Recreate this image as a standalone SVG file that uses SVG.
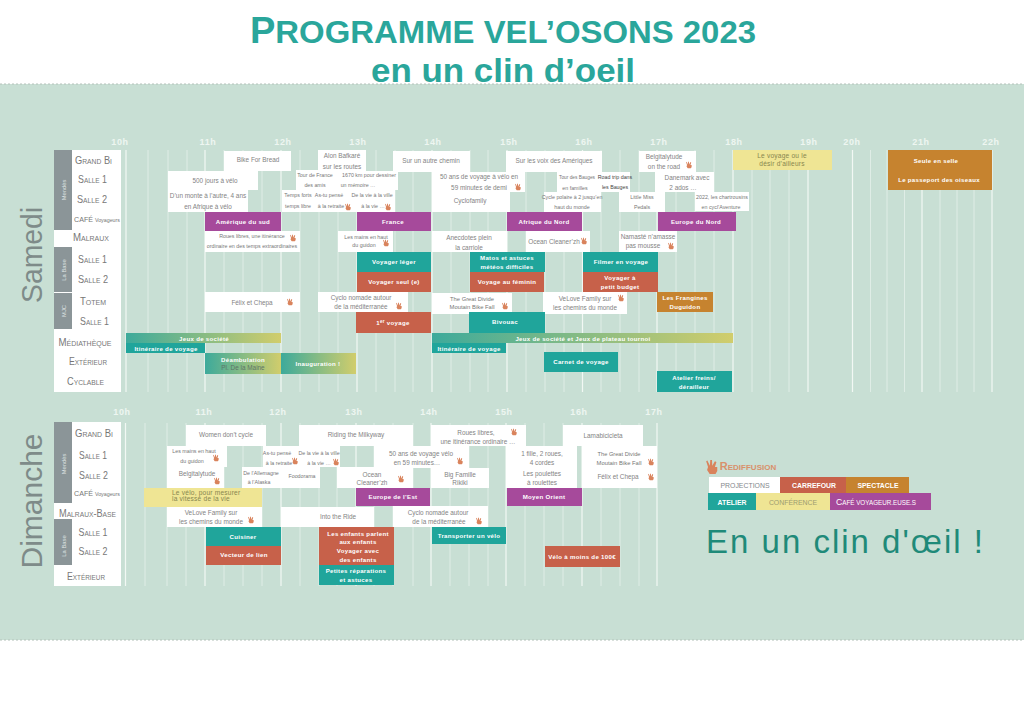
<svg xmlns="http://www.w3.org/2000/svg" width="1024" height="724" viewBox="0 0 1024 724">
<style>
text{font-family:"Liberation Sans",Arial,sans-serif;text-anchor:middle}
.w{fill:#fff}.p{fill:#a64a9b}.te{fill:#20a59b}.co{fill:#c7614a}.or{fill:#c6832f}.ye{fill:#efe594}.gr{fill:#8b9598}
.t{font-size:6.4px;fill:#838383}.n{font-size:5.3px;fill:#767676}.b{font-size:6.1px;font-weight:bold;fill:#fff;letter-spacing:.3px}.y{font-size:6.6px;fill:#87864f;letter-spacing:.2px}
.h{font-size:9px;font-weight:bold;fill:#eef6f1;letter-spacing:.6px}
.r{font-size:11px;fill:#777;font-variant:small-caps}
.v{font-size:5.8px;fill:#dfe3e3}
.day{font-size:30px;fill:#7e8b89}
.maj{stroke:#f2f8f4;stroke-width:1.2;fill:none}.min{stroke:#eaf3ee;stroke-width:.7;fill:none}
.lg{font-size:6.9px;font-weight:bold;fill:#fff}
</style>
<defs>
<linearGradient id="g1"><stop offset="0" stop-color="#3daa9b"/><stop offset="1" stop-color="#d1cd6c"/></linearGradient>
<symbol id="hand" viewBox="0 0 10 12"><path fill="#d9835c" d="M1 0.5 3.2 5 3.5 0 5 0 5.2 5 7.5 1 8.8 1.8 7.5 6 9.5 6 9.5 9.5 8 12 3 12 0.8 8.5 1.6 6 0 1Z"/></symbol>
</defs>
<rect width="1024" height="724" fill="#fff"/>
<rect y="84" width="1024" height="556" fill="#c8dfd4"/>
<path d="M0 84H1024M0 640H1024" stroke="#b4c2ba" stroke-width="1" stroke-dasharray="2 2" fill="none"/>
<g id="title">
<text x="503" y="43" font-size="32" font-weight="bold" fill="#2aa69b" textLength="506" lengthAdjust="spacingAndGlyphs"><tspan font-size="37">P</tspan>ROGRAMME VEL’OSONS 2023</text>
<text x="503" y="82" font-size="34" font-weight="bold" fill="#2aa69b" textLength="264" lengthAdjust="spacingAndGlyphs">en un clin d’oeil</text>
</g>
<g id="grid">
<path class="maj" d="M126 150V392M205 150V392M281 150V392M357 150V392M432 150V392M507 150V392M582.5 150V392M657 150V392M733 150V392M808 150V392M852.5 150V392M922 150V392M992 150V392M125.5 423V586M205 423V586M281 423V586M356 423V586M431 423V586M506 423V586M582 423V586M657 423V586"/>
<path class="min" d="M148 150V392M168 150V392M187 150V392M224 150V392M243 150V392M262 150V392M300 150V392M319 150V392M338 150V392M376 150V392M395 150V392M413 150V392M451 150V392M470 150V392M488 150V392M526 150V392M545 150V392M564 150V392M601 150V392M620 150V392M639 150V392M676 150V392M695 150V392M714 150V392M752 150V392M770 150V392M789 150V392M870.5 150V392M887 150V392M904.5 150V392M940 150V392M957 150V392M974 150V392M145 423V586M167 423V586M186 423V586M224 423V586M243 423V586M262 423V586M300 423V586M319 423V586M337 423V586M374 423V586M393 423V586M413 423V586M450 423V586M469 423V586M488 423V586M525 423V586M544 423V586M563 423V586M601 423V586M620 423V586M639 423V586"/>
</g>
<g id="hours-sat">
<text class="h" x="120" y="145">10h</text><text class="h" x="208" y="145">11h</text><text class="h" x="283" y="145">12h</text><text class="h" x="358" y="145">13h</text><text class="h" x="433" y="145">14h</text><text class="h" x="509" y="145">15h</text><text class="h" x="584" y="145">16h</text><text class="h" x="659" y="145">17h</text><text class="h" x="734" y="145">18h</text><text class="h" x="809" y="145">19h</text><text class="h" x="852" y="145">20h</text><text class="h" x="921" y="145">21h</text><text class="h" x="991" y="145">22h</text>
</g>
<g id="hours-sun">
<text class="h" x="122" y="415">10h</text><text class="h" x="204" y="415">11h</text><text class="h" x="278" y="415">12h</text><text class="h" x="354" y="415">13h</text><text class="h" x="429" y="415">14h</text><text class="h" x="504" y="415">15h</text><text class="h" x="579" y="415">16h</text><text class="h" x="654" y="415">17h</text>
</g>
<text class="day" transform="translate(42 255) rotate(-90)" textLength="96" lengthAdjust="spacingAndGlyphs">Samedi</text>
<text class="day" transform="translate(42 501) rotate(-90)">Dimanche</text>
<g id="rooms-sat">
<rect class="w" x="54" y="150" width="67" height="242"/>
<rect class="gr" x="54" y="150" width="18" height="80"/><rect class="gr" x="54" y="247" width="18" height="45"/><rect class="gr" x="54" y="293" width="18" height="36"/>
<text class="v" transform="translate(65.5 190) rotate(-90)">Mendès</text><text class="v" transform="translate(65.5 270) rotate(-90)">La Base</text><text class="v" transform="translate(65.5 311) rotate(-90)">MJC</text>
<text class="r" x="93.5" y="164" textLength="37" lengthAdjust="spacingAndGlyphs">Grand Bi</text><text class="r" x="92.5" y="183" textLength="29" lengthAdjust="spacingAndGlyphs">Salle 1</text><text class="r" x="92" y="203" textLength="30" lengthAdjust="spacingAndGlyphs">Salle 2</text>
<text x="97" y="222" font-size="7.100" fill="#777">CAFÉ <tspan font-size="5.300">Voyageurs</tspan></text>
<text class="r" x="91" y="241" textLength="36" lengthAdjust="spacingAndGlyphs">Malraux</text><text class="r" x="92.500" y="263" textLength="29" lengthAdjust="spacingAndGlyphs">Salle 1</text><text class="r" x="93" y="283" textLength="30" lengthAdjust="spacingAndGlyphs">Salle 2</text><text class="r" x="93" y="305" textLength="26" lengthAdjust="spacingAndGlyphs">Totem</text><text class="r" x="94.500" y="325" textLength="29" lengthAdjust="spacingAndGlyphs">Salle 1</text>
<text class="r" x="85" y="346" textLength="53" lengthAdjust="spacingAndGlyphs">Médiathèque</text><text class="r" x="88" y="365" textLength="38" lengthAdjust="spacingAndGlyphs">Extérieur</text><text class="r" x="85.500" y="385" textLength="37" lengthAdjust="spacingAndGlyphs">Cyclable</text>
</g>
<g id="rooms-sun">
<rect class="w" x="54" y="422" width="67" height="164"/>
<rect class="gr" x="54" y="422" width="18" height="81"/><rect class="gr" x="54" y="519" width="18" height="46"/>
<text class="v" transform="translate(65.5 464) rotate(-90)">Mendès</text><text class="v" transform="translate(65.5 546) rotate(-90)">La Base</text>
<text class="r" x="94" y="437" textLength="38" lengthAdjust="spacingAndGlyphs">Grand Bi</text><text class="r" x="93" y="459" textLength="28" lengthAdjust="spacingAndGlyphs">Salle 1</text><text class="r" x="93.500" y="479" textLength="29" lengthAdjust="spacingAndGlyphs">Salle 2</text>
<text x="97" y="496" font-size="7.100" fill="#777">CAFÉ <tspan font-size="5.300">Voyageurs</tspan></text>
<text class="r" x="87.500" y="517" textLength="57" lengthAdjust="spacingAndGlyphs">Malraux-Base</text><text class="r" x="93" y="536" textLength="29" lengthAdjust="spacingAndGlyphs">Salle 1</text><text class="r" x="93" y="555" textLength="29" lengthAdjust="spacingAndGlyphs">Salle 2</text><text class="r" x="86" y="580" textLength="38" lengthAdjust="spacingAndGlyphs">Extérieur</text>
</g>
<g id="sat-events">
<g id="s01"><rect class="w" x="224" y="151" width="67" height="20"/><text class="t" x="258" y="162">Bike For Bread</text></g>
<g id="s02"><rect class="w" x="318" y="150" width="48" height="22"/><text class="t" x="342" y="158">Alon Bafkaré</text><text class="t" x="342" y="169">sur les routes</text></g>
<g id="s03"><rect class="w" x="393" y="151" width="77" height="21"/><text class="t" x="431" y="163">Sur un autre chemin</text></g>
<g id="s04"><rect class="w" x="506" y="151" width="96" height="21"/><text class="t" x="554" y="163">Sur les voix des Amériques</text></g>
<g id="s05"><rect class="w" x="639" y="151" width="57" height="21"/><text class="t" x="664" y="159">Belgitalytude</text><text class="t" x="664" y="169">on the road</text></g>
<g id="s06"><rect class="ye" x="733" y="150" width="99" height="20"/><text class="y" x="782" y="158">Le voyage ou le</text><text class="y" x="782" y="166">désir d’ailleurs</text></g>
<g id="s07"><rect class="or" x="888" y="150" width="104" height="40"/><text class="b" x="936" y="163">Seule en selle</text><text class="b" x="939" y="182">Le passeport des oiseaux</text></g>
<g id="s08"><rect class="w" x="168" y="171" width="90" height="19"/><text class="t" x="215" y="183">500 jours à vélo</text></g>
<g id="s09"><rect class="w" x="168" y="190" width="80" height="22"/><text class="t" x="208" y="198">D’un monte à l’autre, 4 ans</text><text class="t" x="208" y="209">en Afrique à vélo</text></g>
<g id="s10"><rect class="w" x="296" y="170" width="40" height="20"/><text class="n" x="315" y="177">Tour de France</text><text class="n" x="315" y="187">des amis</text></g>
<g id="s11"><rect class="w" x="336" y="171" width="62" height="19"/><text class="n" x="369" y="177">1670 km pour dessiner</text><text class="n" x="358" y="187">un mémoire …</text></g>
<g id="s12"><rect class="w" x="282" y="190" width="30" height="22"/><text class="n" x="298" y="197">Temps forts</text><text class="n" x="298" y="208">temps libre</text></g>
<g id="s13"><rect class="w" x="312" y="190" width="36" height="22"/><text class="n" x="329" y="197">As-tu pensé</text><text class="n" x="331" y="208">à la retraite</text></g>
<g id="s14"><rect class="w" x="348" y="190" width="47" height="22"/><text class="n" x="372" y="197">De la vie à la ville</text><text class="n" x="373" y="208">à la vie …</text></g>
<g id="s15"><rect class="w" x="432" y="172" width="93" height="20"/><text class="t" x="479" y="179">50 ans de voyage à vélo en</text><text class="t" x="479" y="190">59 minutes de demi</text></g>
<g id="s16"><rect class="w" x="432" y="192" width="78" height="20"/><text class="t" x="470" y="203">Cyclofamily</text></g>
<g id="s17"><rect class="w" x="557" y="172" width="44" height="20"/><text class="n" x="577" y="179" textLength="36" lengthAdjust="spacingAndGlyphs">Tour des Bauges</text><text class="n" x="575" y="190">en familles</text></g>
<g id="s18"><rect class="w" x="600" y="172" width="30" height="20"/><text class="n" x="615" y="179" style="fill:#444">Road trip dans</text><text class="n" x="615" y="189" style="fill:#444">les Bauges</text></g>
<g id="s19"><rect class="w" x="544" y="192" width="57" height="20"/><text class="n" x="572" y="199">Cycle polaire à 2 jusqu’en</text><text class="n" x="572" y="209">haut du monde</text></g>
<g id="s20"><rect class="w" x="619" y="192" width="46" height="20"/><text class="n" x="642" y="199">Little Miss</text><text class="n" x="642" y="209">Pedals</text></g>
<g id="s21"><rect class="w" x="655" y="172" width="59" height="20"/><text class="t" x="687" y="180">Danemark avec</text><text class="t" x="683" y="190">2 ados …</text></g>
<g id="s22"><rect class="w" x="695" y="192" width="54" height="19"/><text class="n" x="722" y="199">2022, les chartrousins</text><text class="n" x="721" y="209">en cycl’Aventure</text></g>
<g id="s23"><rect class="p" x="205" y="212" width="76" height="19"/><text class="b" x="243" y="223.500">Amérique du sud</text></g>
<g id="s24"><rect class="p" x="357" y="212" width="74" height="19"/><text class="b" x="393" y="223.500">France</text></g>
<g id="s25"><rect class="p" x="507" y="212" width="75" height="19"/><text class="b" x="544" y="223.500">Afrique du Nord</text></g>
<g id="s26"><rect class="p" x="658" y="212" width="78" height="19"/><text class="b" x="696" y="223.500">Europe du Nord</text></g>
<g id="s27"><rect class="w" x="205" y="231" width="95" height="21"/><text class="n" x="252" y="238">Roues libres, une itinérance</text><text class="n" x="252" y="247.500">ordinaire en des temps extraordinaires</text></g>
<g id="s28"><rect class="w" x="338" y="231" width="55" height="21"/><text class="n" x="366" y="239">Les mains en haut</text><text class="n" x="364" y="246.500">du guidon</text></g>
<g id="s29"><rect class="w" x="432" y="231" width="75" height="21"/><text class="t" x="469" y="240">Anecdotes plein</text><text class="t" x="469" y="249.500">la carriole</text></g>
<g id="s30"><rect class="w" x="526" y="231" width="64" height="21"/><text class="t" x="554" y="243.500">Ocean Cleaner’zh</text></g>
<g id="s31"><rect class="w" x="619" y="231" width="58" height="21"/><text class="t" x="648" y="239">Namasté n’amasse</text><text class="t" x="643" y="247.500">pas mousse</text></g>
<g id="s32"><rect class="te" x="357" y="252" width="74" height="20"/><text class="b" x="394" y="264">Voyager léger</text></g>
<g id="s33"><rect class="te" x="470" y="252" width="75" height="20"/><text class="b" x="507" y="259.500">Matos et astuces</text><text class="b" x="507" y="268.500">météos difficiles</text></g>
<g id="s34"><rect class="te" x="583" y="252" width="75" height="20"/><text class="b" x="621" y="264">Filmer en voyage</text></g>
<g id="s35"><rect class="co" x="357" y="272" width="74" height="20"/><text class="b" x="394" y="284">Voyager seul (e)</text></g>
<g id="s36"><rect class="co" x="470" y="272" width="74" height="20"/><text class="b" x="507" y="284">Voyage au féminin</text></g>
<g id="s37"><rect class="co" x="583" y="272" width="75" height="20"/><text class="b" x="620" y="280">Voyager à</text><text class="b" x="620" y="288.500">petit budget</text></g>
<g id="s38"><rect class="w" x="205" y="292" width="95" height="20"/><text class="t" x="252" y="305">Félix et Chepa</text></g>
<g id="s39"><rect class="w" x="318" y="292" width="90" height="20"/><text class="t" x="361" y="300">Cyclo nomade autour</text><text class="t" x="361" y="309">de la méditerranée</text></g>
<g id="s40"><rect class="w" x="432" y="293" width="80" height="21"/><text class="n" x="472" y="300.500" textLength="44" lengthAdjust="spacingAndGlyphs">The Great Divide</text><text class="n" x="472" y="309" textLength="45" lengthAdjust="spacingAndGlyphs">Moutain Bike Fall</text></g>
<g id="s41"><rect class="w" x="543" y="292" width="84" height="22"/><text class="t" x="585" y="300.500">VeLove Family sur</text><text class="t" x="585" y="309.500">les chemins du monde</text></g>
<g id="s42"><rect class="or" x="657" y="292" width="56" height="20"/><text class="b" x="685" y="300">Les Frangines</text><text class="b" x="685" y="309">Duguidon</text></g>
<g id="s43"><rect class="co" x="356" y="312" width="75" height="21"/><text class="b" x="393" y="324.500">1<tspan font-size="4.500" dy="-2">er</tspan><tspan dy="2"> voyage</tspan></text></g>
<g id="s44"><rect class="te" x="469" y="312" width="76" height="21"/><text class="b" x="505" y="324">Bivouac</text></g>
<g id="s45"><rect fill="url(#g1)" x="126" y="333" width="155" height="10"/><text class="b" x="204" y="340.500">Jeux de société</text></g>
<g id="s46"><rect class="te" x="126" y="343" width="79" height="10"/><text class="b" x="166" y="350.500">Itinéraire de voyage</text></g>
<g id="s47"><rect fill="url(#g1)" x="432" y="333" width="301" height="10"/><text class="b" x="583" y="340.500">Jeux de société et Jeux de plateau tournoi</text></g>
<g id="s48"><rect class="te" x="432" y="343" width="74" height="10"/><text class="b" x="469" y="350.500">Itinéraire de voyage</text></g>
<g id="s49"><rect fill="url(#g1)" x="205" y="353" width="76" height="21"/><text class="b" x="243" y="362">Déambulation</text><text class="t" x="243" y="369.500" style="fill:#5f7468">Pl. De la Maine</text></g>
<g id="s50"><rect fill="url(#g1)" x="281" y="353" width="75" height="21"/><text class="b" x="318" y="366">Inauguration !</text></g>
<g id="s51"><rect class="te" x="544" y="352" width="74" height="20"/><text class="b" x="581" y="364">Carnet de voyage</text></g>
<g id="s52"><rect class="te" x="657" y="371" width="75" height="21"/><text class="b" x="694" y="379.500">Atelier freins/</text><text class="b" x="694" y="388.500">dérailleur</text></g>
</g>
<g id="sun-events">
<g id="d01"><rect class="w" x="186" y="425" width="80" height="21"/><text class="t" x="226" y="437">Women don’t cycle</text></g>
<g id="d02"><rect class="w" x="299" y="425" width="114" height="21"/><text class="t" x="356" y="437">Riding the Milkyway</text></g>
<g id="d03"><rect class="w" x="431" y="425" width="95" height="21"/><text class="t" x="476" y="435">Roues libres,</text><text class="t" x="478" y="444">une itinérance ordinaire …</text></g>
<g id="d04"><rect class="w" x="563" y="425" width="80" height="21"/><text class="t" x="603" y="438">Lamabicicleta</text></g>
<g id="d05"><rect class="w" x="167" y="446" width="60" height="21"/><text class="n" x="194" y="453">Les mains en haut</text><text class="n" x="192" y="463">du guidon</text></g>
<g id="d06"><rect class="w" x="263" y="446" width="37" height="21"/><text class="n" x="277" y="455">As-tu pensé</text><text class="n" x="279" y="465">à la retraite</text></g>
<g id="d07"><rect class="w" x="300" y="446" width="40" height="21"/><text class="n" x="319" y="455">De la vie à la ville</text><text class="n" x="319" y="465">à la vie …</text></g>
<g id="d08"><rect class="w" x="374" y="446" width="95" height="22"/><text class="t" x="421" y="456">50 ans de voyage vélo</text><text class="t" x="417" y="464.500">en 59 minutes…</text></g>
<g id="d09"><rect class="w" x="506" y="446" width="71" height="22"/><text class="t" x="542" y="456">1 fille, 2 roues,</text><text class="t" x="542" y="465">4 cordes</text></g>
<g id="d10"><rect class="w" x="582" y="446" width="75" height="22"/><text class="n" x="619" y="456" textLength="43" lengthAdjust="spacingAndGlyphs">The Great Divide</text><text class="n" x="619" y="465" textLength="45" lengthAdjust="spacingAndGlyphs">Moutain Bike Fall</text></g>
<g id="d11"><rect class="w" x="167" y="467" width="57" height="21"/><text class="t" x="197" y="476">Belgitalytude</text></g>
<g id="d13"><rect class="w" x="278" y="467" width="42" height="21"/><text class="n" x="302" y="478">Foodorama</text></g>
<g id="d12"><rect class="w" x="242" y="467" width="36" height="21"/><text class="n" x="261" y="475">De l’Allemagne</text><text class="n" x="259" y="484">à l’Alaska</text></g>
<g id="d14"><rect class="w" x="337" y="467" width="76" height="21"/><text class="t" x="372" y="476.500">Ocean</text><text class="t" x="372" y="485">Cleaner’zh</text></g>
<g id="d15"><rect class="w" x="431" y="468" width="58" height="20"/><text class="t" x="460" y="476.500">Big Famille</text><text class="t" x="460" y="485">Rikiki</text></g>
<g id="d16"><rect class="w" x="506" y="468" width="71" height="20"/><text class="t" x="542" y="476">Les poulettes</text><text class="t" x="542" y="484.500">à roulettes</text></g>
<g id="d17"><rect class="w" x="582" y="468" width="75" height="20"/><text class="t" x="618" y="479">Félix et Chepa</text></g>
<g id="d18"><rect class="ye" x="144" y="488" width="118" height="19"/><text class="y" x="172" y="495" style="text-anchor:start">Le vélo, pour mesurer</text><text class="y" x="172" y="501" style="text-anchor:start">la vitesse de la vie</text></g>
<g id="d19"><rect class="p" x="356" y="488" width="74" height="18"/><text class="b" x="393" y="499">Europe de l’Est</text></g>
<g id="d20"><rect class="p" x="507" y="488" width="75" height="18"/><text class="b" x="544" y="499">Moyen Orient</text></g>
<g id="d21"><rect class="w" x="167" y="507" width="95" height="20"/><text class="t" x="211" y="515">VeLove Family sur</text><text class="t" x="211" y="524">les chemins du monde</text></g>
<g id="d22"><rect class="w" x="281" y="507" width="93" height="20"/><text class="t" x="338" y="519">Into the Ride</text></g>
<g id="d23"><rect class="w" x="393" y="506" width="95" height="21"/><text class="t" x="438" y="514.500">Cyclo nomade autour</text><text class="t" x="439" y="523.500">de la méditerranée</text></g>
<g id="d24"><rect class="te" x="206" y="527" width="75" height="19"/><text class="b" x="243" y="538.500">Cuisiner</text></g>
<g id="d25"><rect class="co" x="206" y="546" width="75" height="19"/><text class="b" x="244" y="557">Vecteur de lien</text></g>
<g id="d26"><rect class="co" x="319" y="527" width="75" height="38"/><text class="b" x="358" y="535.500">Les enfants parlent</text><text class="b" x="358" y="543.500">aux enfants</text><text class="b" x="358" y="553">Voyager avec</text><text class="b" x="358" y="561.500">des enfants</text></g>
<g id="d27"><rect class="te" x="319" y="565" width="75" height="20"/><text class="b" x="356" y="573">Petites réparations</text><text class="b" x="356" y="581.500">et astuces</text></g>
<g id="d28"><rect class="te" x="432" y="527" width="74" height="17"/><text class="b" x="469" y="538">Transporter un vélo</text></g>
<g id="d29"><rect class="co" x="545" y="546" width="75" height="21"/><text class="b" x="582" y="559">Vélo à moins de 100€</text></g>
</g>
<g id="replays">
<use href="#hand" x="290" y="234.500" width="6" height="7"/><use href="#hand" x="383" y="239.500" width="6" height="7"/><use href="#hand" x="515" y="183.500" width="6" height="7"/><use href="#hand" x="345" y="203.500" width="6" height="7"/><use href="#hand" x="385" y="203.500" width="6" height="7"/><use href="#hand" x="686" y="161.500" width="6" height="7"/><use href="#hand" x="581" y="237.500" width="6" height="7"/><use href="#hand" x="668" y="242.500" width="6" height="7"/><use href="#hand" x="287" y="298.500" width="6" height="7"/><use href="#hand" x="396" y="302.500" width="6" height="7"/><use href="#hand" x="502" y="302.500" width="6" height="7"/><use href="#hand" x="618" y="294.500" width="6" height="7"/>
<use href="#hand" x="511" y="428.500" width="6" height="7"/><use href="#hand" x="213" y="454.500" width="6" height="7"/><use href="#hand" x="292" y="457.500" width="6" height="7"/><use href="#hand" x="333" y="458.500" width="6" height="7"/><use href="#hand" x="457" y="457.500" width="6" height="7"/><use href="#hand" x="398" y="475.500" width="6" height="7"/><use href="#hand" x="214" y="477.500" width="6" height="7"/><use href="#hand" x="248" y="516.500" width="6" height="7"/><use href="#hand" x="476" y="517.500" width="6" height="7"/><use href="#hand" x="648" y="458.500" width="6" height="7"/><use href="#hand" x="648" y="473.500" width="6" height="7"/>
</g>
<g id="legend">
<use href="#hand" x="706" y="460" width="12" height="14"/>
<text x="748" y="470" font-size="11" font-weight="bold" fill="#d9906b" style="font-variant:small-caps">Rediffusion</text>
<g id="l1"><rect class="w" x="709" y="477" width="71" height="16"/><text class="lg" x="745" y="488" style="fill:#84888c;font-weight:normal">PROJECTIONS</text></g>
<g id="l2"><rect class="co" x="780" y="477" width="66" height="16"/><text class="lg" x="814" y="488">CARREFOUR</text></g>
<g id="l3"><rect class="or" x="846" y="477" width="63" height="16"/><text class="lg" x="878" y="488">SPECTACLE</text></g>
<g id="l4"><rect class="te" x="708" y="493" width="48" height="17"/><text class="lg" x="732" y="505">ATELIER</text></g>
<g id="l5"><rect class="ye" x="756" y="493" width="74" height="17"/><text class="lg" x="793" y="505" style="fill:#9d9c70;font-weight:normal">CONFÉRENCE</text></g>
<g id="l6"><rect class="p" x="830" y="493" width="101" height="17"/><text class="lg" x="876" y="505" textLength="80" lengthAdjust="spacingAndGlyphs" style="font-weight:normal"><tspan font-size="9.500">C</tspan>AFÉ VOYAGEUR.EUSE.S</text></g>
<text x="706" y="553" font-size="33" fill="#1f8a79" letter-spacing="2" style="text-anchor:start">En un clin d'œil !</text>
</g>
</svg>
